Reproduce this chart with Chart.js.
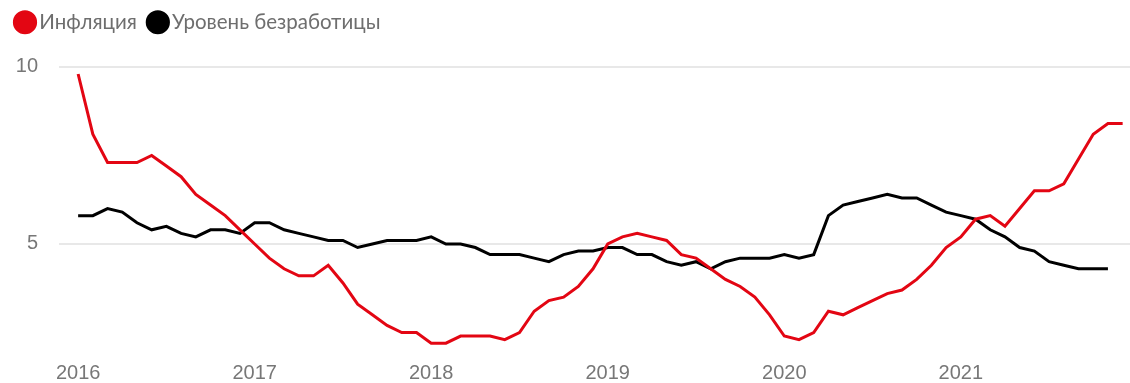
<!DOCTYPE html>
<html lang="ru">
<head>
<meta charset="utf-8">
<title>Инфляция и уровень безработицы</title>
<script src="https://cdn.jsdelivr.net/npm/chart.js@4.4.1/dist/chart.umd.min.js"></script>
<style>
  html, body { margin: 0; padding: 0; background: #fff; }
  #wrap { position: relative; width: 1130px; height: 383px; }
</style>
</head>
<body>
<div id="wrap"><canvas id="chart-infl"></canvas></div>
<script>
// Monthly data, Jan 2016 - Dec 2021 (percent)
const years = ['2016', '2017', '2018', '2019', '2020', '2021'];

const inflation = [
  9.8, 8.1, 7.3, 7.3, 7.3, 7.5, 7.2, 6.9, 6.4, 6.1, 5.8, 5.4,
  5.0, 4.6, 4.3, 4.1, 4.1, 4.4, 3.9, 3.3, 3.0, 2.7, 2.5, 2.5,
  2.2, 2.2, 2.4, 2.4, 2.4, 2.3, 2.5, 3.1, 3.4, 3.5, 3.8, 4.3,
  5.0, 5.2, 5.3, 5.2, 5.1, 4.7, 4.6, 4.3, 4.0, 3.8, 3.5, 3.0,
  2.4, 2.3, 2.5, 3.1, 3.0, 3.2, 3.4, 3.6, 3.7, 4.0, 4.4, 4.9,
  5.2, 5.7, 5.8, 5.5, 6.0, 6.5, 6.5, 6.7, 7.4, 8.1, 8.4, 8.4,
];

// unemployment stops one month earlier (Nov 2021)
const unemployment = [
  5.8, 5.8, 6.0, 5.9, 5.6, 5.4, 5.5, 5.3, 5.2, 5.4, 5.4, 5.3,
  5.6, 5.6, 5.4, 5.3, 5.2, 5.1, 5.1, 4.9, 5.0, 5.1, 5.1, 5.1,
  5.2, 5.0, 5.0, 4.9, 4.7, 4.7, 4.7, 4.6, 4.5, 4.7, 4.8, 4.8,
  4.9, 4.9, 4.7, 4.7, 4.5, 4.4, 4.5, 4.3, 4.5, 4.6, 4.6, 4.6,
  4.7, 4.6, 4.7, 5.8, 6.1, 6.2, 6.3, 6.4, 6.3, 6.3, 6.1, 5.9,
  5.8, 5.7, 5.4, 5.2, 4.9, 4.8, 4.5, 4.4, 4.3, 4.3, 4.3,
];

const yTicks = [5, 10];

const RED = '#e30613';
const BLACK = '#000000';

const toPoints = arr => arr.map((v, i) => ({ x: i, y: v }));

const chart = new Chart(document.getElementById('chart-infl'), {
  type: 'line',
  data: {
    datasets: [
      {
        label: 'Инфляция',
        data: toPoints(inflation),
        borderColor: RED,
        backgroundColor: RED,
        borderWidth: 3,
        pointRadius: 0,
        tension: 0,
      },
      {
        label: 'Уровень безработицы',
        data: toPoints(unemployment),
        borderColor: BLACK,
        backgroundColor: BLACK,
        borderWidth: 3,
        pointRadius: 0,
        tension: 0,
      },
    ],
  },
  options: {
    responsive: true,
    maintainAspectRatio: false,
    animation: false,
    layout: { padding: { left: 4, right: 0, top: -5, bottom: 0 } },
    plugins: {
      tooltip: { enabled: false },
      legend: {
        position: 'top',
        align: 'start',
        labels: {
          usePointStyle: true,
          pointStyle: 'circle',
          boxWidth: 8,
          boxHeight: 15,
          padding: 17,
          color: '#6e6e6e',
          font: { family: 'Lato, "Noto Sans", sans-serif', size: 20.5 },
        },
      },
    },
    scales: {
      x: {
        type: 'linear',
        min: -1.3,
        max: 71.5,
        afterBuildTicks: s => { s.ticks = years.map((_, i) => ({ value: i * 12 })); },
        afterFit: s => { s.height = 31; },
        ticks: {
          padding: 3,
          color: '#777',
          font: { family: '"Liberation Sans", Arial, sans-serif', size: 20 },
          callback: v => years[v / 12],
        },
        grid: { display: false },
        border: { display: false },
      },
      y: {
        min: 2.006,
        max: 10.69,
        afterBuildTicks: s => { s.ticks = yTicks.map(v => ({ value: v })); },
        afterFit: s => { s.width = 55; },
        ticks: {
          padding: 21,
          color: '#777',
          font: { family: '"Liberation Sans", Arial, sans-serif', size: 20 },
        },
        grid: { color: '#e8e8e8', lineWidth: 2, drawTicks: false },
        border: { display: false },
      },
    },
  },
});
</script>
</body>
</html>
